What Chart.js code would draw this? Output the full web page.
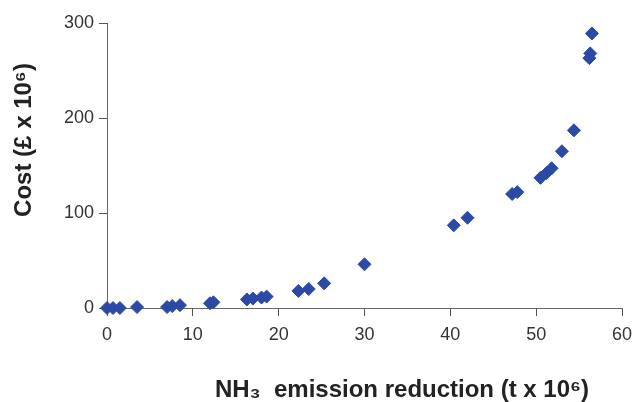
<!DOCTYPE html>
<html>
<head>
<meta charset="utf-8">
<script src="https://cdn.jsdelivr.net/npm/chart.js"></script>
<style>
  body { margin: 0; background: #fff; }
</style>
</head>
<body>
<canvas id="myChart" width="634" height="402"></canvas>
<script>
// emission reduction (t x 10^6) and cost (£ x 10^6)
const reduction = [0, 0.7, 1.5, 3.5, 7, 7.6, 8.5, 12, 12.4, 16.3, 17, 18, 18.6,
  22.3, 23.5, 25.3, 30, 40.4, 42, 47.2, 47.8, 50.5, 51.2, 51.8, 53, 54.4, 56.2, 56.3, 56.5];
const cost = [0, 0, 0, 1, 1, 2, 3, 5, 6, 9, 10, 11, 12,
  18, 20, 26, 46, 87, 95, 120, 122, 137, 142, 147, 165, 187, 263, 268, 289];
const xTicks = [0, 10, 20, 30, 40, 50, 60];
const yTicks = [0, 100, 200, 300];
const xTitle = 'NH\u2083  emission reduction (t x 10\u2076)';
const yTitle = 'Cost (\u00a3 x 10\u2076)';

const points = reduction.map((r, i) => ({ x: r, y: cost[i] }));

// axis titles sit off-centre in the original, so draw them by hand
const axisTitles = {
    id: 'axisTitles',
    afterDraw(chart) {
        const c = chart.ctx;
        const area = chart.chartArea;
        c.save();
        c.fillStyle = '#222';
        c.font = 'bold 24px "Liberation Sans"';
        c.textAlign = 'center';
        c.textBaseline = 'middle';
        c.fillText(xTitle, 402, 390);
        c.translate(24, area.top + 117);
        c.rotate(-Math.PI / 2);
        c.fillText(yTitle, 0, 0);
        c.restore();
    }
};

const ctx = document.getElementById('myChart');

new Chart(ctx, {
    type: 'scatter',
    data: {
        datasets: [{
            data: points,
            pointStyle: 'rectRot',
            pointRadius: 6.5,
            backgroundColor: '#2b4aa6',
            borderColor: '#2b4aa6',
            borderWidth: 1
        }]
    },
    options: {
        responsive: false,
        animation: false,
        clip: false,
        layout: { padding: { top: 23, right: 12, left: 0, bottom: 0 } },
        plugins: { legend: { display: false }, tooltip: { enabled: false } },
        scales: {
            x: {
                type: 'linear',
                min: 0, max: 60,
                afterBuildTicks: s => { s.ticks = xTicks.map(v => ({ value: v })); },
                afterFit: s => { s.height = 94; s.paddingLeft = 0; s.paddingRight = 0; },
                grid: { drawOnChartArea: false, drawTicks: true, tickLength: 8, color: '#555' },
                border: { color: '#666', width: 1, dash: [1, 1] },
                ticks: { color: '#333', padding: 8, font: { family: 'Liberation Sans', size: 18 } }
            },
            y: {
                type: 'linear',
                min: 0, max: 300,
                afterBuildTicks: s => { s.ticks = yTicks.map(v => ({ value: v })); },
                afterFit: s => { s.width = 107; s.paddingTop = 0; s.paddingBottom = 0; },
                grid: { drawOnChartArea: false, drawTicks: true, tickLength: 8, color: '#555' },
                border: { color: '#666', width: 1, dash: [1, 1] },
                ticks: { color: '#333', padding: 5, font: { family: 'Liberation Sans', size: 18 } }
            }
        }
    },
    plugins: [axisTitles]
});
</script>
</body>
</html>
